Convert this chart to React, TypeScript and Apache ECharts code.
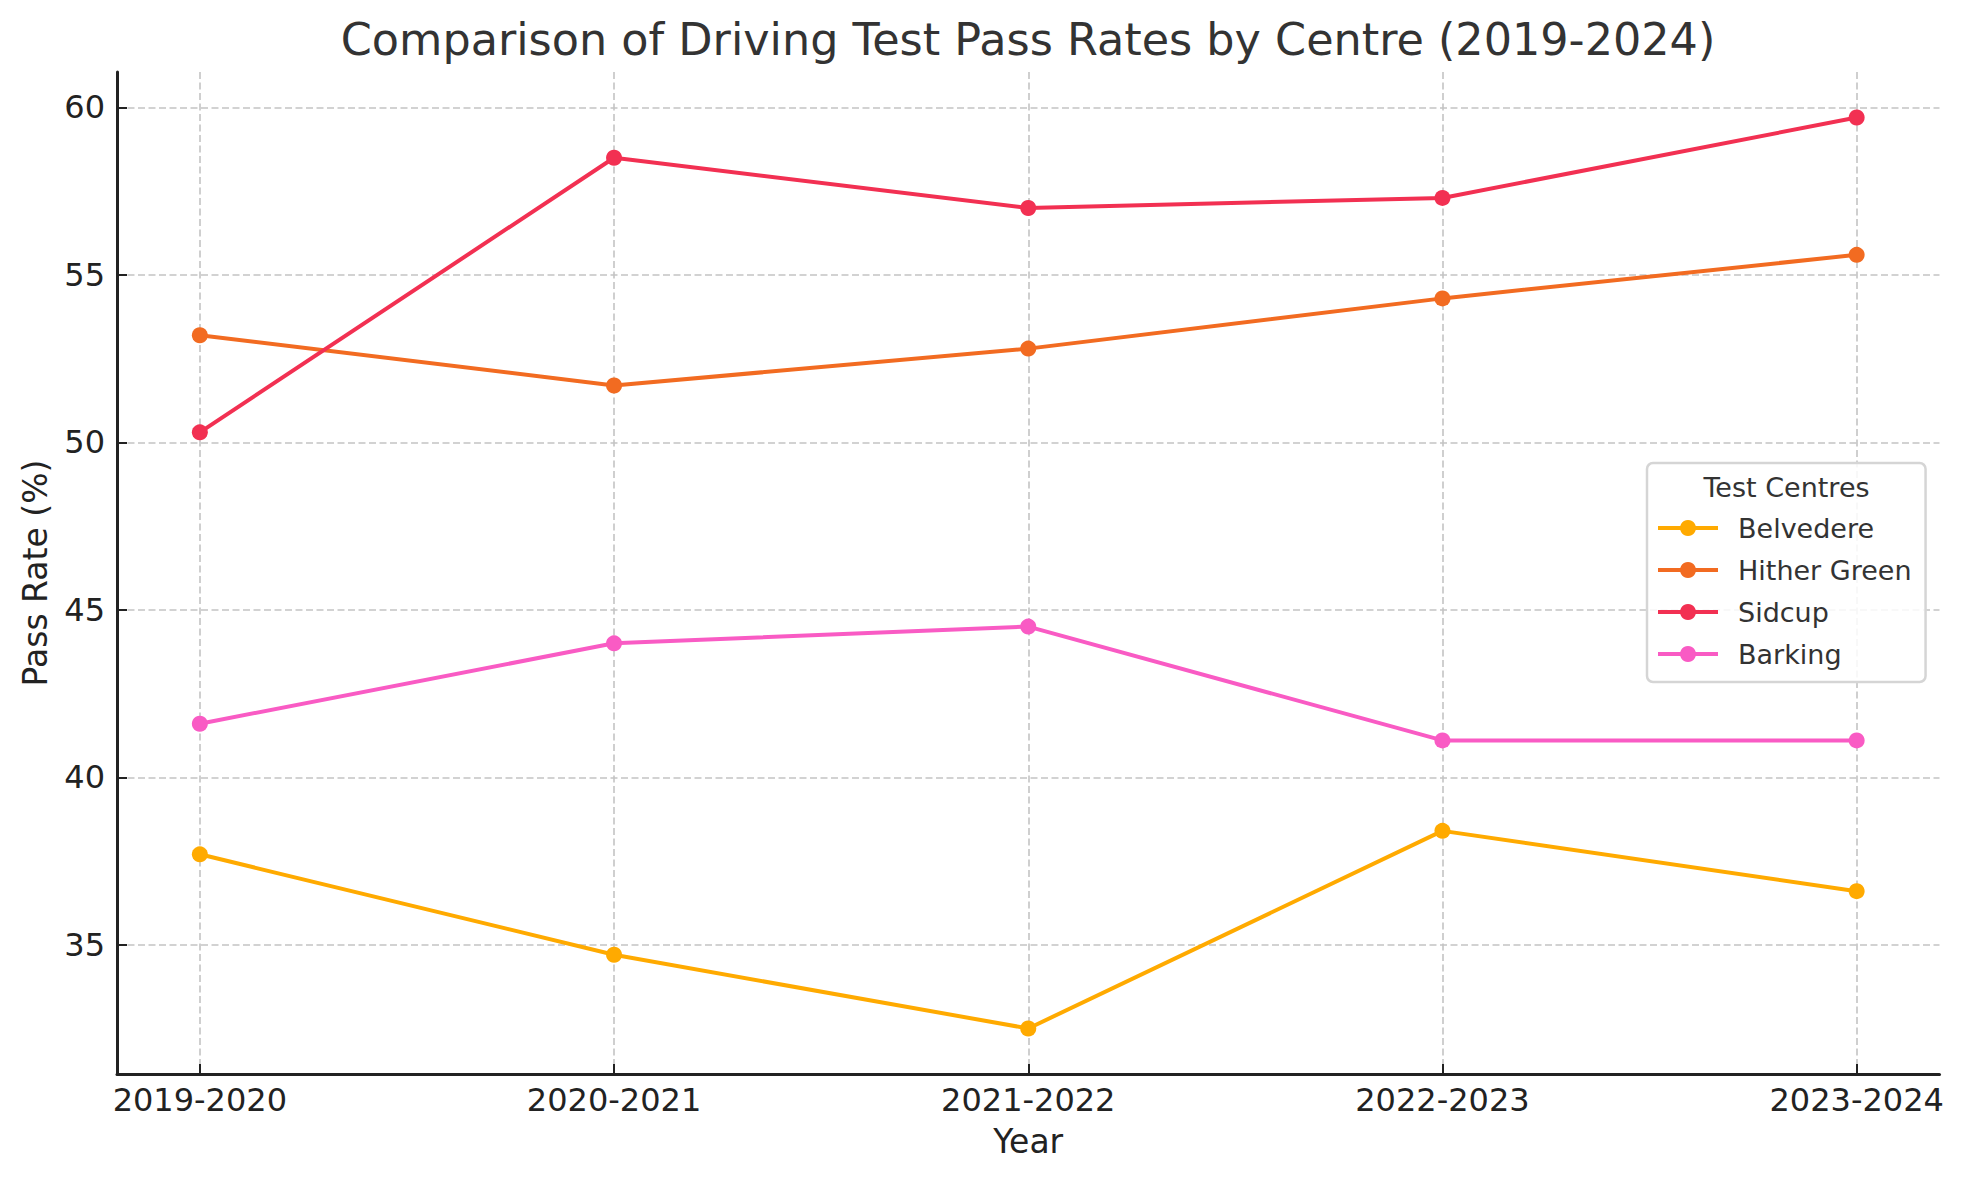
import React, { useEffect, useRef } from "react";
import * as echarts from "echarts";

const years = ["2019-2020", "2020-2021", "2021-2022", "2022-2023", "2023-2024"];
const belvedere = [37.7, 34.7, 32.5, 38.4, 36.6];
const hitherGreen = [53.2, 51.7, 52.8, 54.3, 55.6];
const sidcup = [50.3, 58.5, 57.0, 57.3, 59.7];
const barking = [41.6, 44.0, 44.5, 41.1, 41.1];
const yTicks = [35, 40, 45, 50, 55, 60];

const seriesDefs = [
  { name: "Belvedere", data: belvedere, color: "#FFAA00" },
  { name: "Hither Green", data: hitherGreen, color: "#F26B21" },
  { name: "Sidcup", data: sidcup, color: "#F23052" },
  { name: "Barking", data: barking, color: "#F95BC4" },
];

const FONT = "DejaVu Sans";

export default function App() {
  const ref = useRef<HTMLDivElement>(null);
  useEffect(() => {
    if (!ref.current) return;
    const chart = echarts.init(ref.current, undefined, { renderer: "svg" });
    const xIdx = years.map((_, i) => i);
    const grid = { type: [7, 3.5], color: "#c4c4c4", width: 1.6 };
    chart.setOption({
      animation: false,
      backgroundColor: "#ffffff",
      textStyle: { fontFamily: FONT },
      title: {
        text: "Comparison of Driving Test Pass Rates by Centre (2019-2024)",
        left: 1023,
        top: 12,
        textAlign: "center",
        textStyle: { fontFamily: FONT, fontSize: 44.5, fontWeight: "normal", color: "#333333" },
      },
      grid: { left: 117, right: 27.5, top: 72, bottom: 106, containLabel: false },
      xAxis: {
        type: "value",
        min: -0.2,
        max: 4.2,
        name: "Year",
        nameLocation: "middle",
        nameGap: 51,
        nameTextStyle: { fontFamily: FONT, fontSize: 33, color: "#222222" },
        axisLine: { show: true, onZero: false, lineStyle: { color: "#222222", width: 3 } },
        axisTick: { show: true, inside: true, length: 10, customValues: xIdx, lineStyle: { color: "#222222", width: 2 } },
        axisLabel: {
          customValues: xIdx,
          formatter: (v: number) => years[Math.round(v)] ?? "",
          fontFamily: FONT,
          fontSize: 32,
          color: "#222222",
          margin: 10,
        },
        splitLine: { show: true, customValues: xIdx, lineStyle: grid },
      },
      yAxis: {
        type: "value",
        min: 31.14,
        max: 61.06,
        name: "Pass Rate (%)",
        nameLocation: "middle",
        nameRotate: 90,
        nameGap: 65,
        nameTextStyle: { fontFamily: FONT, fontSize: 33, color: "#222222" },
        axisLine: { show: true, onZero: false, lineStyle: { color: "#222222", width: 3 } },
        axisTick: { show: true, inside: true, length: 10, customValues: yTicks, lineStyle: { color: "#222222", width: 2 } },
        axisLabel: {
          customValues: yTicks,
          fontFamily: FONT,
          fontSize: 32,
          color: "#222222",
          margin: 12,
        },
        splitLine: { show: true, customValues: yTicks, lineStyle: grid },
      },
      legend: {
        orient: "vertical",
        left: 1647,
        top: 463,
        padding: [51.5, 14, 14.5, 9],
        itemWidth: 60,
        itemHeight: 20,
        itemGap: 15,
        borderColor: "#d5d5d5",
        borderWidth: 2.5,
        borderRadius: 6,
        backgroundColor: "rgba(255,255,255,0.85)",
        lineStyle: { width: 4 },
        textStyle: { fontFamily: FONT, fontSize: 27, color: "#333333", padding: [0, 0, 0, 15] },
        data: seriesDefs.map((s) => s.name),
      },
      graphic: [
        {
          type: "text",
          x: 1786.5,
          y: 487,
          z: 100,
          style: {
            text: "Test Centres",
            fontFamily: FONT,
            fontSize: 27,
            fill: "#333333",
            textAlign: "center",
            textVerticalAlign: "middle",
          },
        },
      ],
      series: seriesDefs.map((s) => ({
        name: s.name,
        type: "line",
        data: s.data.map((v, i) => [i, v]),
        symbol: "circle",
        symbolSize: 16,
        color: s.color,
        lineStyle: { width: 4, color: s.color },
        itemStyle: { color: s.color },
      })),
    });
    return () => chart.dispose();
  }, []);
  return (
    <div
      ref={ref}
      style={{ position: "fixed", left: 0, top: 0, width: 1967, height: 1180, background: "#fff" }}
    />
  );
}
